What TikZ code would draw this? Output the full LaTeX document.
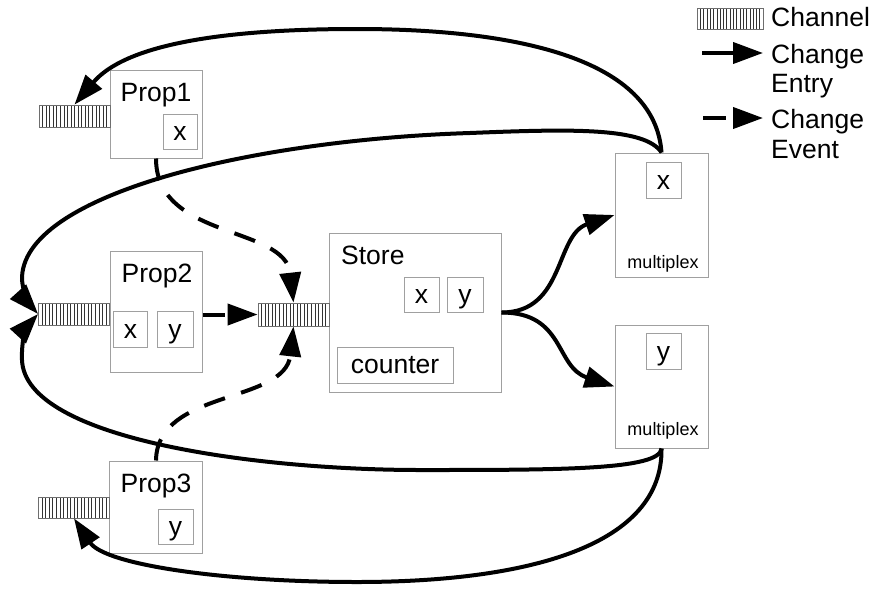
\documentclass[tikz,border=0pt]{standalone}
\usepackage{fontspec}
\setmainfont{Liberation Sans}
\usetikzlibrary{arrows.meta,calc}
\definecolor{boxgray}{RGB}{160,160,160}
\definecolor{changray}{RGB}{110,110,110}
\begin{document}
\begin{tikzpicture}[x=1pt,y=-1pt,
  box/.style={draw=boxgray, line width=1pt, fill=white, inner sep=0},
  txt/.style={font=\fontsize{26.5}{30}\selectfont, inner sep=0},
  small/.style={font=\fontsize{18}{22}\selectfont, inner sep=0},
  chan/.style={draw=changray, line width=0.8pt, fill=white, inner sep=0,
    minimum width=71pt, minimum height=22pt,
    path picture={\foreach \k in {1,...,19}{
      \draw[black!80,line width=0.55pt]
        ($(path picture bounding box.south west)!\k/20!(path picture bounding box.south east)$) --
        ($(path picture bounding box.north west)!\k/20!(path picture bounding box.north east)$);}}},
  flow/.style={line width=4pt, -{Triangle[length=30pt,width=21pt]}},
  event/.style={flow, dash pattern=on 22pt off 17pt}
]
\useasboundingbox (0,0) rectangle (877,589);

% Prop1
\node[box, minimum width=92pt, minimum height=88pt] (p1) at (156,114) {};
\node[chan] (ch1) at (74.5,116) {};
\node[txt, anchor=base] (p1t) at (156,101) {Prop1};
\node[box, minimum width=34pt, minimum height=35pt] (p1x) at (180,131.5) {};
\node[txt, anchor=base] at ([yshift=-9pt]p1x.center) {x};

% Prop2
\node[box, minimum width=92pt, minimum height=121pt] (p2) at (156,311.5) {};
\node[chan] (ch2) at (74,314) {};
\node[txt, anchor=base] (p2t) at (157,282) {Prop2};
\node[box, minimum width=34pt, minimum height=36pt] (p2x) at (130.5,329) {};
\node[txt, anchor=base] at ([yshift=-9pt]p2x.center) {x};
\node[box, minimum width=36pt, minimum height=36pt] (p2y) at (175,329) {};
\node[txt, anchor=base] at ([yshift=-9pt]p2y.center) {y};

% Prop3
\node[box, minimum width=93pt, minimum height=92pt] (p3) at (156,507) {};
\node[chan, minimum height=21pt] (ch3) at (74,507.5) {};
\node[txt, anchor=base] (p3t) at (156,492) {Prop3};
\node[box, minimum width=35pt, minimum height=35pt] (p3y) at (175.5,526.5) {};
\node[txt, anchor=base] at ([yshift=-9pt]p3y.center) {y};

% Store
\node[box, minimum width=172pt, minimum height=159pt] (st) at (415,312.5) {};
\node[chan, minimum height=23pt] (chs) at (293.5,314.5) {};
\node[txt, anchor=base west] (stt) at (341,264) {Store};
\node[box, minimum width=35pt, minimum height=35pt] (stx) at (421.5,294.5) {};
\node[txt, anchor=base] at ([yshift=-9pt]stx.center) {x};
\node[box, minimum width=36pt, minimum height=35pt] (sty) at (465,294.5) {};
\node[txt, anchor=base] at ([yshift=-9pt]sty.center) {y};
\node[box, minimum width=116pt, minimum height=36pt] (stc) at (395,365) {};
\node[txt, anchor=base] at ([yshift=-8pt]stc.center) {counter};

% Multiplex x
\node[box, minimum width=93pt, minimum height=124pt] (mx) at (661.5,215) {};
\node[box, minimum width=35pt, minimum height=36pt] (mxx) at (663.5,180) {};
\node[txt, anchor=base] at ([yshift=-9pt]mxx.center) {x};
\node[small, anchor=base] (mxt) at (663,268) {multiplex};

% Multiplex y
\node[box, minimum width=93pt, minimum height=123pt] (my) at (661.5,386.5) {};
\node[box, minimum width=35pt, minimum height=36pt] (myy) at (663.5,351) {};
\node[txt, anchor=base] at ([yshift=-9pt]myy.center) {y};
\node[small, anchor=base] (myt) at (663,435) {multiplex};

% Change entries (solid)
\draw[flow] (mx.north) .. controls (655,60) and (520,29) .. (357,29)
  .. controls (220,29) and (125,45) .. (ch1.north);
\draw[flow] (mx.north) .. controls (645,127) and (570,129) .. (470,133)
  .. controls (250,140) and (20,195) .. (22,280)
  .. controls (23,292) and (30,305) .. (ch2.west);
\draw[flow] (my.south) .. controls (660,470) and (560,470) .. (420,470)
  .. controls (260,470) and (25,440) .. (22,360)
  .. controls (21,340) and (28,325) .. (ch2.west);
\draw[flow] (my.south) .. controls (663,545) and (530,582) .. (357,582)
  .. controls (225,582) and (105,565) .. (ch3.south);
\draw[flow] (st.east) .. controls (565,312.5) and (555,235) .. (mx.west);
\draw[flow] (st.east) .. controls (565,312.5) and (555,367) .. (my.west);

% Change events (dashed)
\draw[event] (p1.south) .. controls (156,240) and (285,225) .. (chs.north);
\draw[event] (p3.north) .. controls (157,389) and (285,404) .. (chs.south);
\draw[event] (p2.east |- chs.west) -- (chs.west);

% Legend
\node[chan, minimum width=66pt, minimum height=21pt] (lc) at (730,18.5) {};
\node[txt, anchor=base west] (lct) at (771,26) {Channel};
\coordinate (le1) at (702,53);
\coordinate (le2) at (763,53);
\draw[flow] (le1) -- (le2);
\node[txt, anchor=base west] (l2a) at (771,63) {Change};
\node[txt, anchor=base west] (l2b) at (771,92) {Entry};
\coordinate (lv1) at (703,118);
\coordinate (lv2) at (763,118);
\draw[flow, dash pattern=on 23pt off 40pt] (lv1) -- (lv2);
\node[txt, anchor=base west] (l3a) at (771,128) {Change};
\node[txt, anchor=base west] (l3b) at (771,158) {Event};
\end{tikzpicture}
\end{document}
